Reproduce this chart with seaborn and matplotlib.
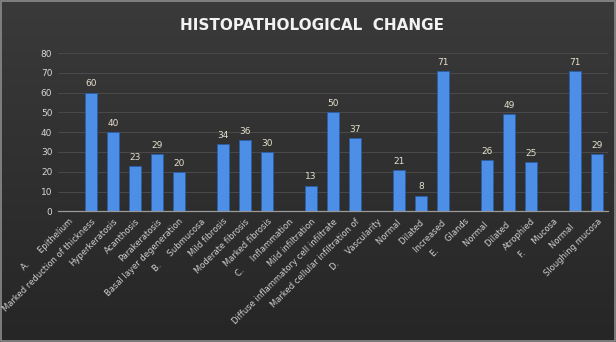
import numpy as np
import pandas as pd
import matplotlib
matplotlib.use("Agg")
import matplotlib.pyplot as plt
import seaborn as sns

categories = [
    "A.      Epithelium",
    "Marked reduction of thickness",
    "Hyperkeratosis",
    "Acanthosis",
    "Parakeratosis",
    "Basal layer degeneration",
    "B.     Submucosa",
    "Mild fibrosis",
    "Moderate fibrosis",
    "Marked fibrosis",
    "C.     Inflammation",
    "Mild infiltration",
    "Diffuse inflammatory cell infiltrate",
    "Marked cellular infiltration of",
    "D.     Vascularity",
    "Normal ",
    "Dilated ",
    "Increased ",
    "E.     Glands",
    "Normal  ",
    "Dilated  ",
    "Atrophied",
    "F.     Mucosa",
    "Normal   ",
    "Sloughing mucosa",
]
values = [np.nan, 60, 40, 23, 29, 20,
          np.nan, 34, 36, 30,
          np.nan, 13, 50, 37,
          np.nan, 21, 8, 71,
          np.nan, 26, 49, 25,
          np.nan, 71, 29]
yticks = [0, 10, 20, 30, 40, 50, 60, 70, 80]
title = "HISTOPATHOLOGICAL  CHANGE"

df = pd.DataFrame({"cat": categories, "val": values})

sns.set_theme(style="dark")
plt.rcParams['font.family'] = ['DejaVu Sans']

fig = plt.figure(figsize=(6.16, 3.42), dpi=100)
fig.patch.set_facecolor("#2e2e2e")

# background gradient
bg = fig.add_axes([0, 0, 1, 1], zorder=-10)
grad = np.linspace(0, 1, 256).reshape(-1, 1)
bg.imshow(grad, aspect="auto", cmap=matplotlib.colors.LinearSegmentedColormap.from_list(
    "g", ["#3a3a3a", "#262626"]), extent=[0, 1, 0, 1])
bg.set_xlim(0, 1)
bg.set_ylim(0, 1)
bg.set_axis_off()
bg.add_patch(plt.Rectangle((0.002, 0.003), 0.996, 0.994, fill=False,
                           edgecolor="#8c8c8c", linewidth=1.2, transform=bg.transAxes))

ax = fig.add_axes([0.094, 0.382, 0.893, 0.463])
ax.set_facecolor("none")

sns.barplot(data=df.dropna(), x="cat", y="val", order=categories, color="#4d8fe6",
            width=0.55, ax=ax, saturation=1, edgecolor="#2a5da8", linewidth=0.6)

for c in ax.containers:
    ax.bar_label(c, fmt="%g", color="#e6e0cc", fontsize=6.5, padding=3)

ax.set_ylim(0, 80)
ax.set_yticks(yticks)
ax.set_yticklabels([str(v) for v in yticks], color="#d8d8d8", fontsize=6.5)
ax.set_xlim(-0.5, len(categories) - 0.5)
ax.set_xlabel("")
ax.set_ylabel("")
ax.grid(axis="y", color="#4a4a4a", linewidth=0.7)
ax.grid(axis="x", visible=False)
ax.set_axisbelow(True)
for s in ["top", "right", "left"]:
    ax.spines[s].set_visible(False)
ax.spines["bottom"].set_color("#9a9a9a")
ax.spines["bottom"].set_linewidth(0.9)

ax.set_xticks(range(len(categories)))
ax.set_xticklabels(categories, rotation=45, ha="right", rotation_mode="anchor",
                   color="#d0d0d0", fontsize=6)
ax.tick_params(axis="both", length=0, pad=4)

fig.text(0.507, 0.925, title, ha="center", va="center", color="#f2f2f2",
         fontsize=11, fontweight="bold")

fig.savefig("out.png", dpi=100, facecolor=fig.get_facecolor())
